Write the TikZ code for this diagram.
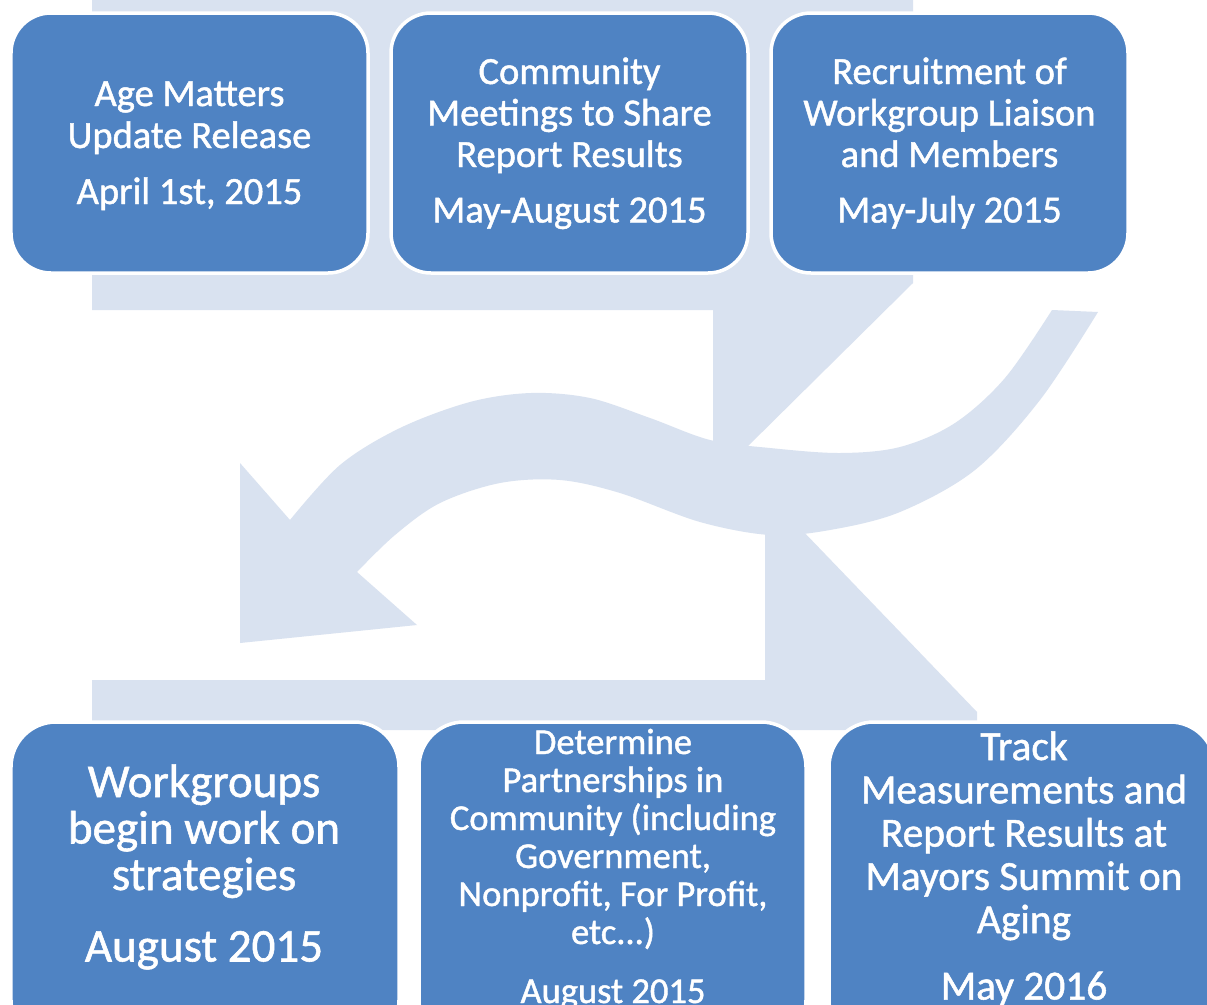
\documentclass[tikz,border=0pt]{standalone}
\usepackage{fontspec}
\setmainfont{Carlito}
\newfontfamily\boxfont{Carlito}[FakeBold=1.2]
\definecolor{boxblue}{RGB}{79,131,195}
\definecolor{bgblue}{RGB}{217,226,240}
\begin{document}
\begin{tikzpicture}[x=1bp,y=-1bp,
  stepbox/.style={draw=white, line width=3.5bp, fill=boxblue, rounded corners=40bp, inner sep=0pt, outer sep=0pt},
  lbl/.style={text=white, align=center, anchor=north, inner sep=0pt, outer sep=0pt},
  bgshape/.style={fill=bgblue}]
\path[use as bounding box] (0,0) rectangle (1207,1005);
\clip (0,0) rectangle (1207,1005);
\fill[white] (0,0) rectangle (1207,1005);
% faded background arrows
\fill[bgshape] (92,0) -- (913,0) -- (913,283) -- (742,452) -- (713,452) -- (713,310) -- (92,310) -- cycle;
\fill[bgshape] (92,680) -- (765,680) -- (765,528) -- (800,528) -- (977,712) -- (977,730) -- (92,730) -- cycle;
\fill[bgshape] (1052,310) -- (1098,312)
  -- plot[smooth,tension=0.55] coordinates {(1098,312) (1040,400) (975,470) (900,512) (830,530) (770,535) (700,522) (620,493) (560,480) (500,483) (440,503) (395,535) (357,572)}
  -- (417,625) -- (240,643) -- (240,463) -- (290,520)
  -- plot[smooth,tension=0.55] coordinates {(290,520) (340,465) (400,428) (470,402) (531,393) (590,398) (650,418) (710,440) (770,448) (840,453) (900,447) (955,423) (1005,378) (1052,310)}
  -- cycle;
% boxes
\node[stepbox, minimum width=357bp, minimum height=260bp] (b1) at (189.5,143) {};
\node[stepbox, minimum width=357bp, minimum height=260bp] (b2) at (569.5,143) {};
\node[stepbox, minimum width=357bp, minimum height=260bp] (b3) at (949.5,143) {};
\node[stepbox, minimum width=388bp, minimum height=323bp, rounded corners=45bp] (b4) at (205,883.5) {};
\node[stepbox, minimum width=387bp, minimum height=323bp, rounded corners=45bp] (b5) at (612.5,883.5) {};
\node[stepbox, minimum width=386bp, minimum height=323bp, rounded corners=45bp] (b6) at (1022,883.5) {};
% texts
\node[lbl, font=\boxfont\fontsize{38.5bp}{42bp}\selectfont] (t1) at (189.5,70)
  {\rule{0pt}{36bp}Age Matters\\Update Release\\[14bp]April 1st, 2015};
\node[lbl, font=\boxfont\fontsize{38.5bp}{41.5bp}\selectfont] (t2) at (569.5,48)
  {\rule{0pt}{36bp}Community\\Meetings to Share\\Report Results\\[14bp]May-August 2015};
\node[lbl, font=\boxfont\fontsize{38.5bp}{41.5bp}\selectfont] (t3) at (949.5,48)
  {\rule{0pt}{36bp}Recruitment of\\Workgroup Liaison\\and Members\\[14bp]May-July 2015};
\node[lbl, font=\boxfont\fontsize{47bp}{46.5bp}\selectfont] (t4) at (204,761)
  {\rule{0pt}{36bp}Workgroups\\begin work on\\strategies\\[25bp]August 2015};
\node[lbl, font=\boxfont\fontsize{36.5bp}{38bp}\selectfont] (t5) at (613,718)
  {\rule{0pt}{36bp}Determine\\Partnerships in\\Community (including\\Government,\\Nonprofit, For Profit,\\etc...)\\[21bp]August 2015};
\node[lbl, font=\boxfont\fontsize{41.4bp}{43.3bp}\selectfont] (t6) at (1024,724)
  {\rule{0pt}{36bp}Track\\Measurements and\\Report Results at\\Mayors Summit on\\Aging\\[23bp]May 2016};
\end{tikzpicture}
\end{document}
